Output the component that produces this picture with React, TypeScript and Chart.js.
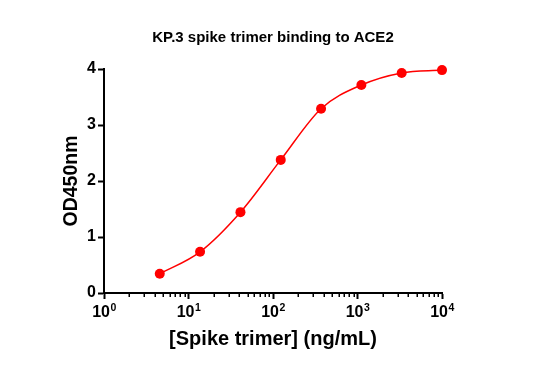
import React, { useEffect, useRef } from 'react';
import { Chart, registerables } from 'chart.js';

Chart.register(...registerables);

const FONT = '"Liberation Sans", Arial, Helvetica, sans-serif';

const chartTitle = 'KP.3 spike trimer binding to ACE2';
const xAxisTitle = '[Spike trimer] (ng/mL)';
const yAxisTitle = 'OD450nm';

const concentrations = [4.57, 13.7, 41.2, 123.5, 370.4, 1111, 3333, 10000];
const od450 = [0.344, 0.736, 1.444, 2.377, 3.29, 3.714, 3.93, 3.98];

const xTickValues = [1, 10, 100, 1000, 10000];
const xTickBase = '10';
const xTickExponents = ['0', '1', '2', '3', '4'];
const xMinorTickValues = [
  2, 3, 4, 5, 6, 7, 8, 9,
  20, 30, 40, 50, 60, 70, 80, 90,
  200, 300, 400, 500, 600, 700, 800, 900,
  2000, 3000, 4000, 5000, 6000, 7000, 8000, 9000,
];
const yTickValues = [0, 1, 2, 3, 4];

const logAxisPlugin = {
  id: 'logAxisDecor',
  afterDraw(chart: any) {
    const xs = chart.scales.x;
    const ctx = chart.ctx as CanvasRenderingContext2D;
    const axisY = chart.chartArea.bottom;
    ctx.save();
    ctx.strokeStyle = '#000';
    ctx.lineWidth = 1.5;
    xMinorTickValues.forEach((v) => {
      const px = Math.round(xs.getPixelForValue(v)) + 0.25;
      ctx.beginPath();
      ctx.moveTo(px, axisY);
      ctx.lineTo(px, axisY + 4);
      ctx.stroke();
    });
    ctx.fillStyle = '#000';
    ctx.textBaseline = 'alphabetic';
    ctx.textAlign = 'left';
    xTickValues.forEach((v, i) => {
      const px = xs.getPixelForValue(v);
      ctx.font = `bold 16px ${FONT}`;
      const wb = ctx.measureText(xTickBase).width;
      ctx.font = `bold 10.5px ${FONT}`;
      const we = ctx.measureText(xTickExponents[i]).width;
      const start = px - (wb + we) / 2;
      ctx.font = `bold 16px ${FONT}`;
      ctx.fillText(xTickBase, start, axisY + 23.5);
      ctx.font = `bold 10.5px ${FONT}`;
      ctx.fillText(xTickExponents[i], start + wb + 0.5, axisY + 17.5);
    });
    ctx.restore();
  },
};

export default function App() {
  const canvasRef = useRef<HTMLCanvasElement | null>(null);

  useEffect(() => {
    if (!canvasRef.current) return;
    Chart.defaults.font.family = FONT;
    const chart = new Chart(canvasRef.current, {
      type: 'line',
      data: {
        datasets: [
          {
            data: concentrations.map((x, i) => ({ x, y: od450[i] })),
            borderColor: '#ff0000',
            backgroundColor: '#ff0000',
            pointBackgroundColor: '#ff0000',
            pointBorderColor: '#ff0000',
            pointRadius: 5,
            pointBorderWidth: 0,
            borderWidth: 1.5,
            cubicInterpolationMode: 'monotone',
            fill: false,
            clip: false,
          },
        ],
      },
      options: {
        responsive: false,
        animation: false,
        devicePixelRatio: 1,
        layout: { padding: { left: 6, right: 0, top: 0, bottom: 0 } },
        plugins: {
          legend: { display: false },
          tooltip: { enabled: false },
          title: {
            display: true,
            text: chartTitle,
            color: '#000',
            font: { size: 15, weight: 'bold', family: FONT },
            padding: { top: 29, bottom: 22 },
          },
        },
        scales: {
          x: {
            type: 'logarithmic',
            min: 1,
            max: 10000,
            afterBuildTicks: (scale: any) => {
              scale.ticks = xTickValues.map((v) => ({ value: v, major: true }));
            },
            afterFit: (scale: any) => {
              scale.height = 90;
            },
            ticks: { display: false },
            grid: {
              display: true,
              drawOnChartArea: false,
              drawTicks: true,
              tickLength: 6,
              tickWidth: 2,
              tickColor: '#000',
            },
            border: { display: true, color: '#000', width: 2 },
            title: {
              display: true,
              text: xAxisTitle,
              color: '#000',
              font: { size: 20, weight: 'bold', family: FONT },
              padding: { top: 0, bottom: 32 },
            },
          },
          y: {
            type: 'linear',
            min: 0,
            max: 4,
            afterBuildTicks: (scale: any) => {
              scale.ticks = yTickValues.map((v) => ({ value: v }));
            },
            afterFit: (scale: any) => {
              scale.width = 98;
            },
            ticks: {
              color: '#000',
              padding: 2,
              font: { size: 16, weight: 'bold', family: FONT },
            },
            grid: {
              display: true,
              drawOnChartArea: false,
              drawTicks: true,
              tickLength: 6,
              tickWidth: 2,
              tickColor: '#000',
            },
            border: { display: true, color: '#000', width: 2 },
            title: {
              display: true,
              text: yAxisTitle,
              color: '#000',
              font: { size: 19.5, weight: 'bold', family: FONT },
              padding: { top: 54, bottom: 0 },
            },
          },
          y2: {
            type: 'linear',
            position: 'right',
            display: true,
            grid: { display: false },
            ticks: { display: false },
            border: { display: false },
            afterFit: (scale: any) => {
              scale.width = 98;
            },
          },
        },
      },
      plugins: [logAxisPlugin],
    } as any);
    return () => chart.destroy();
  }, []);

  return (
    <div style={{ position: 'absolute', left: 0, top: 0, width: 540, height: 383, background: '#fff' }}>
      <canvas ref={canvasRef} width={540} height={383} style={{ display: 'block' }} />
    </div>
  );
}
